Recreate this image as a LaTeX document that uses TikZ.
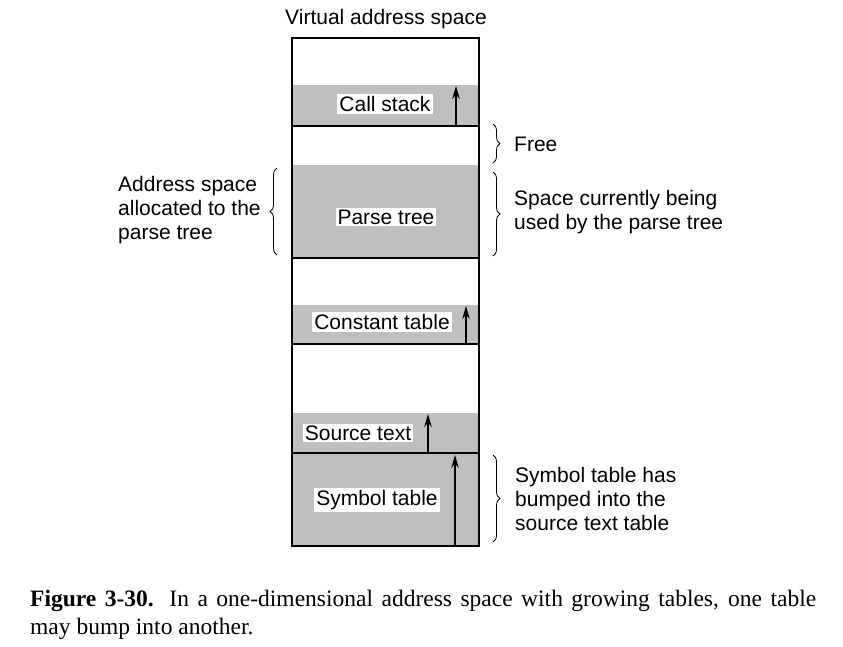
\documentclass[tikz,border=0pt]{standalone}
\usepackage{fontspec}
\setmainfont{Liberation Serif}
\newfontfamily\arialfont{Liberation Sans}
\usetikzlibrary{arrows.meta,decorations.pathreplacing}
\definecolor{tablegray}{RGB}{190,191,193}

\begin{document}
\begin{tikzpicture}[x=1pt,y=-1pt,
    lbl/.style={fill=white,inner sep=2pt,font=\arialfont\fontsize{21}{24}\selectfont},
    note/.style={anchor=west,align=left,inner sep=0pt,font=\arialfont\fontsize{21}{24}\selectfont},
    growarrow/.style={line width=1.2pt,-{Stealth[length=13pt,width=7.5pt]}},
    brc/.style={decorate,decoration={brace,amplitude=7pt},line width=0.8pt}]
    \useasboundingbox (0,0) rectangle (843,646);
    %title
    \node[note,anchor=center] (vas) at (386,19) {Virtual address space};

    %gray tables
    \fill[tablegray] (292,85) rectangle (479,126);
    \fill[tablegray] (292,165) rectangle (479,258);
    \fill[tablegray] (292,305) rectangle (479,344);
    \fill[tablegray] (292,413) rectangle (479,546);

    %outline and table boundaries
    \draw[line width=1.4pt] (292,38) rectangle (479,546);
    \draw[line width=1.8pt] (292,126) -- (479,126);
    \draw[line width=1.8pt] (292,258) -- (479,258);
    \draw[line width=1.8pt] (292,344) -- (479,344);
    \draw[line width=1.8pt] (292,453) -- (479,453);

    %growth arrows
    \coordinate (csbot) at (456,126);
    \coordinate (cstop) at (456,86);
    \coordinate (ctbot) at (466,344);
    \coordinate (cttop) at (466,306);
    \coordinate (stbot) at (428,453);
    \coordinate (sttop) at (428,414);
    \coordinate (sybot) at (455,546);
    \coordinate (sytop) at (455,455);
    \draw[growarrow] (csbot) -- (cstop);
    \draw[growarrow] (ctbot) -- (cttop);
    \draw[growarrow] (stbot) -- (sttop);
    \draw[growarrow] (sybot) -- (sytop);

    %table labels
    \node[lbl] (callstack) at (385,104) {Call stack};
    \node[lbl] (parsetree) at (386,217) {Parse tree};
    \node[lbl] (consttable) at (382,322) {Constant table};
    \node[lbl] (sourcetext) at (358,433) {Source text};
    \node[lbl] (symtable) at (377,500) {Symbol table};

    %braces
    \coordinate (allocbot) at (277,255);
    \coordinate (alloctop) at (277,168);
    \coordinate (freetop) at (493,124);
    \coordinate (freebot) at (493,163);
    \coordinate (usedtop) at (493,172);
    \coordinate (usedbot) at (493,256);
    \coordinate (bumptop) at (493,455);
    \coordinate (bumpbot) at (493,542);
    \draw[brc] (allocbot) -- (alloctop);
    \draw[brc] (freetop) -- (freebot);
    \draw[brc] (usedtop) -- (usedbot);
    \draw[brc] (bumptop) -- (bumpbot);

    %notes
    \node[note] (alloc) at (118,210) {Address space\\allocated to the\\parse tree};
    \node[note] (free) at (514,144) {Free};
    \node[note] (used) at (514,212) {Space currently being\\used by the parse tree};
    \node[note] (bump) at (515,499) {Symbol table has\\bumped into the\\source text table};

    %caption
    \node[anchor=north west,inner sep=0pt,text width=786pt,align=justify,
      font=\fontsize{23.5}{27.5}\selectfont] (caption) at (30,590)
      {\textbf{Figure 3-30.} In a one-dimensional address space with growing tables, one table\linebreak may bump into another.};
\end{tikzpicture}
\end{document}
